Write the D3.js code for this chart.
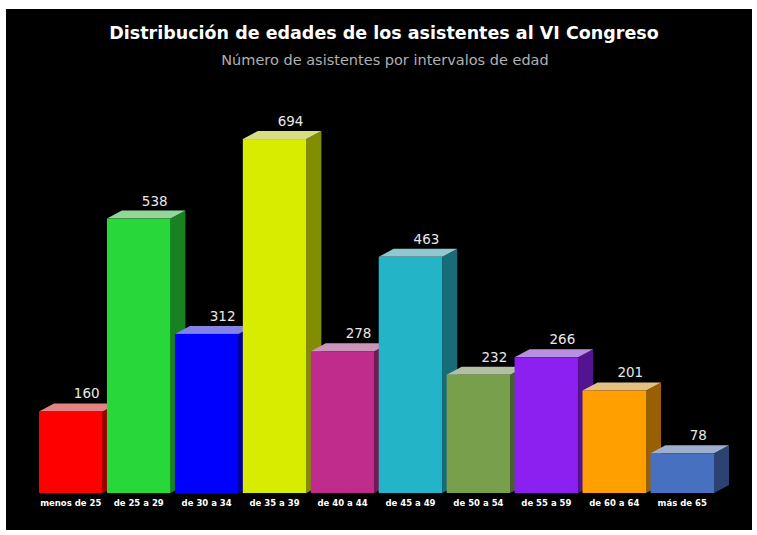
<!DOCTYPE html>
<html>
<head>
<meta charset="utf-8">
<script src="https://cdn.jsdelivr.net/npm/d3@7"></script>
<style>
  html, body { margin: 0; padding: 0; background: #ffffff; }
  svg { display: block; }
</style>
</head>
<body>
<svg id="chart" width="757" height="535"></svg>
<script>
const categories = ["menos de 25", "de 25 a 29", "de 30 a 34", "de 35 a 39", "de 40 a 44",
                    "de 45 a 49", "de 50 a 54", "de 55 a 59", "de 60 a 64", "más de 65"];
const values = [160, 538, 312, 694, 278, 463, 232, 266, 201, 78];
const colors = ["#ff0000", "#28d83a", "#0000ff", "#d8ec00", "#c02c8c",
                "#24b4c8", "#78a04c", "#8c20f0", "#ffa000", "#4870c0"];
const titleText = "Distribución de edades de los asistentes al VI Congreso";
const subtitleText = "Número de asistentes por intervalos de edad";

const svg = d3.select("#chart");

svg.append("rect").attr("x", 6).attr("y", 9).attr("width", 746).attr("height", 521)
  .attr("fill", "#000000");

svg.append("text").attr("x", 384).attr("y", 39).attr("text-anchor", "middle")
  .attr("font-family", "DejaVu Sans, sans-serif").attr("font-weight", "bold")
  .attr("font-size", 17.5).attr("fill", "#ffffff").text(titleText);
svg.append("text").attr("x", 385).attr("y", 65).attr("text-anchor", "middle")
  .attr("font-family", "DejaVu Sans, sans-serif")
  .attr("font-size", 14.5).attr("fill", "#b0b0b0").text(subtitleText);

const baseY = 493;
const x = d3.scaleBand().domain(categories).range([39, 714]).paddingInner(0.065).paddingOuter(0);
const y = d3.scaleLinear().domain([0, 700]).range([baseY, baseY - 357]);
const dx = 15, dy = -8;

const data = categories.map((c, i) => ({ c, v: values[i], col: colors[i] }));

const g = svg.append("g");
const bars = g.selectAll("g.bar").data(data).enter().append("g").attr("class", "bar");

function mix(c, w, t) {
  return d3.interpolateRgb(c, w)(t);
}

// side face
bars.append("path")
  .attr("d", d => {
    const x1 = x(d.c) + x.bandwidth(), yt = y(d.v);
    return `M${x1},${yt} L${x1 + dx},${yt + dy} L${x1 + dx},${baseY + dy} L${x1},${baseY} Z`;
  })
  .attr("fill", d => mix(d.col, "#000000", 0.4));

// top cap
bars.append("path")
  .attr("d", d => {
    const x0 = x(d.c), x1 = x0 + x.bandwidth(), yt = y(d.v);
    return `M${x0},${yt} L${x0 + dx},${yt + dy} L${x1 + dx},${yt + dy} L${x1},${yt} Z`;
  })
  .attr("fill", d => mix(d.col, "#d4d4d4", 0.62));

// front face
bars.append("rect")
  .attr("x", d => x(d.c))
  .attr("y", d => y(d.v))
  .attr("width", x.bandwidth())
  .attr("height", d => baseY - y(d.v))
  .attr("fill", d => d.col);

// value labels
bars.append("text")
  .attr("x", d => x(d.c) + x.bandwidth() / 2 + 16)
  .attr("y", d => y(d.v) + dy - 5)
  .attr("text-anchor", "middle")
  .attr("font-family", "DejaVu Sans, sans-serif")
  .attr("font-size", 13.5)
  .attr("fill", "#e8e8e8")
  .text(d => d.v);

// category axis
const axis = d3.axisBottom(x).tickSize(0).tickPadding(7);
const ax = svg.append("g").attr("transform", `translate(0,${baseY})`).call(axis);
ax.select(".domain").remove();
ax.selectAll("text")
  .attr("font-family", "DejaVu Sans, sans-serif")
  .attr("font-size", 8.5)
  .attr("font-weight", "bold")
  .attr("fill", "#ffffff");
</script>
</body>
</html>
